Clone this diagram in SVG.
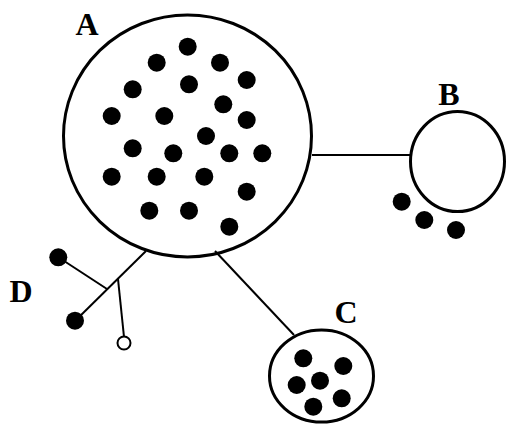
<svg xmlns="http://www.w3.org/2000/svg" width="506" height="427" viewBox="0 0 506 427">
<style>
.ring{fill:none;stroke:#000;stroke-width:3}
.dot{fill:#000}
.open{fill:#fff;stroke:#000;stroke-width:2}
.ln{stroke:#000;stroke-width:2;fill:none}
.lbl{font-family:"Liberation Serif",serif;font-weight:bold;font-size:32px;fill:#000;text-anchor:middle}
</style>
<rect width="506" height="427" fill="#fff"/>
<g id="connectors">
<line class="ln" x1="312" y1="155" x2="410" y2="155"/>
<line class="ln" x1="215" y1="251" x2="294" y2="335"/>
<line class="ln" x1="146" y1="251" x2="75" y2="321"/>
<line class="ln" x1="58" y1="257" x2="107" y2="289"/>
<line class="ln" x1="118" y1="279" x2="124" y2="337"/>
</g>
<g id="A">
<ellipse class="ring" cx="187.5" cy="136" rx="124" ry="121"/>
<g class="dot">
<circle cx="187.7" cy="46.7" r="9"/>
<circle cx="156.7" cy="62.7" r="9"/>
<circle cx="220" cy="62.7" r="9"/>
<circle cx="246.7" cy="80" r="9"/>
<circle cx="132.7" cy="89.3" r="9"/>
<circle cx="189" cy="84.3" r="9"/>
<circle cx="223.3" cy="104.3" r="9"/>
<circle cx="111.7" cy="116" r="9"/>
<circle cx="164.3" cy="116" r="9"/>
<circle cx="246.7" cy="120" r="9"/>
<circle cx="206" cy="136" r="9"/>
<circle cx="132.7" cy="148.3" r="9"/>
<circle cx="173.3" cy="153.3" r="9"/>
<circle cx="229.3" cy="153.3" r="9"/>
<circle cx="262.3" cy="153.3" r="9"/>
<circle cx="111.7" cy="176.7" r="9"/>
<circle cx="156.7" cy="176.7" r="9"/>
<circle cx="204.3" cy="176.7" r="9"/>
<circle cx="246.7" cy="191.7" r="9"/>
<circle cx="149.3" cy="210.7" r="9"/>
<circle cx="189" cy="210.7" r="9"/>
<circle cx="229.3" cy="226.7" r="9"/>
</g>
<text class="lbl" x="87" y="35">A</text>
</g>
<g id="B">
<ellipse class="ring" cx="457.5" cy="161.5" rx="47" ry="50"/>
<circle class="dot" cx="401.7" cy="201.7" r="9"/>
<circle class="dot" cx="424.3" cy="220" r="9"/>
<circle class="dot" cx="456" cy="230" r="9"/>
<text class="lbl" x="449" y="105">B</text>
</g>
<g id="C">
<ellipse class="ring" cx="321.5" cy="376" rx="52" ry="46"/>
<circle class="dot" cx="303.3" cy="358.3" r="9"/>
<circle class="dot" cx="343.3" cy="366" r="9"/>
<circle class="dot" cx="296.7" cy="385" r="9"/>
<circle class="dot" cx="320" cy="380.7" r="9"/>
<circle class="dot" cx="341.7" cy="398.3" r="9"/>
<circle class="dot" cx="313.3" cy="406.7" r="9"/>
<text class="lbl" x="346" y="323">C</text>
</g>
<g id="D">
<circle class="dot" cx="58.3" cy="257.3" r="9"/>
<circle class="dot" cx="75" cy="320.7" r="9"/>
<circle class="open" cx="124" cy="343" r="6.5"/>
<text class="lbl" x="21" y="302">D</text>
</g>
</svg>
